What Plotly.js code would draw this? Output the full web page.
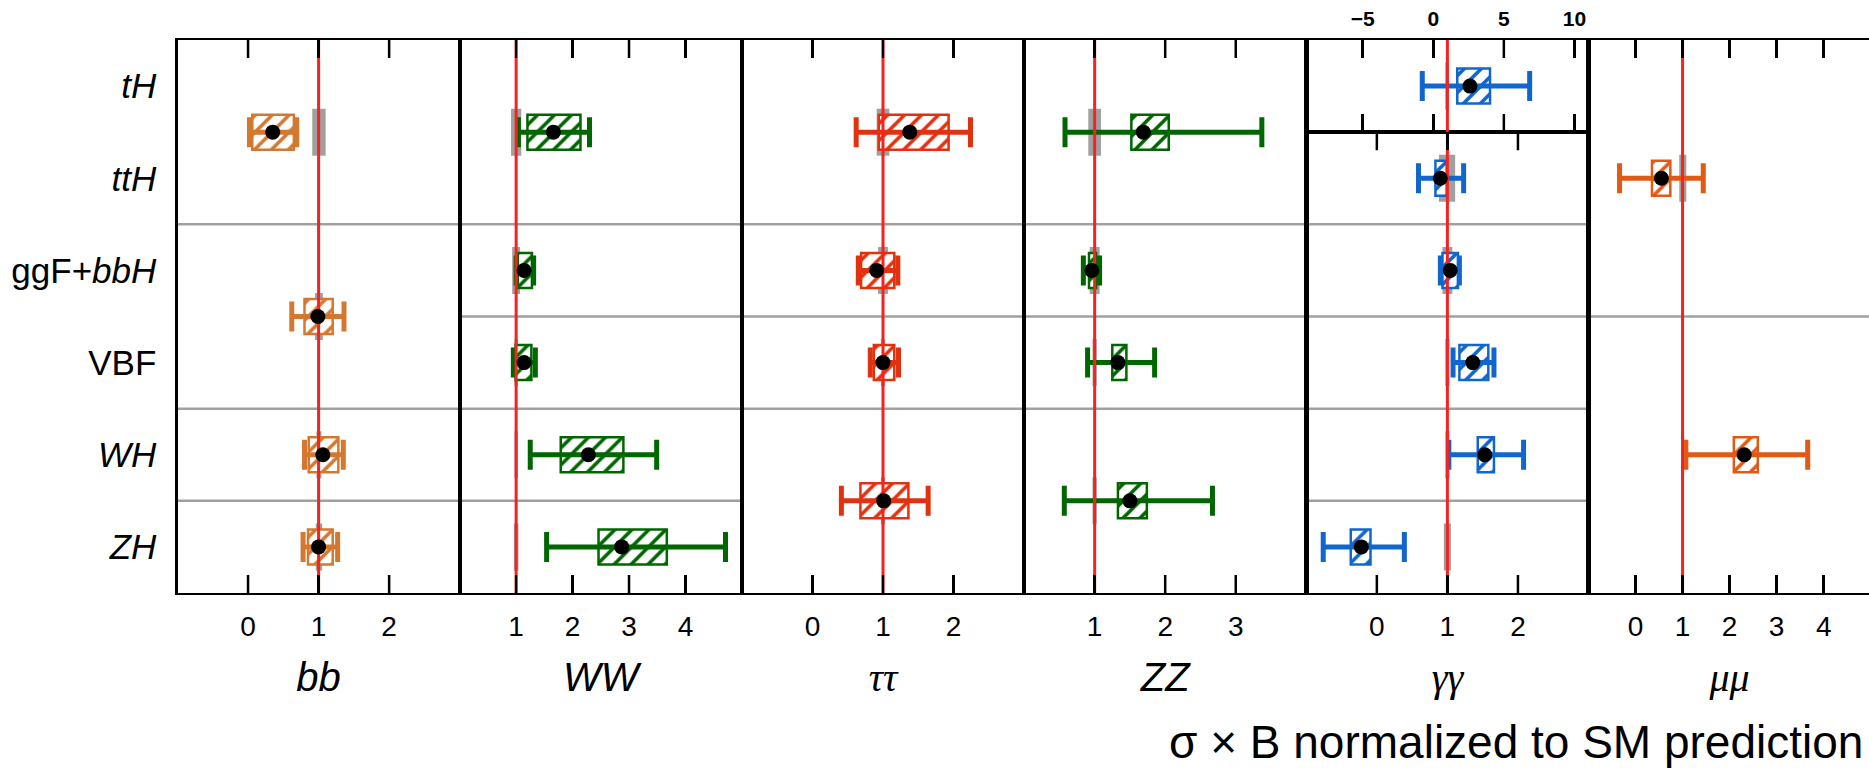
<!DOCTYPE html>
<html>
<head>
<meta charset="utf-8">
<script src="https://cdn.plot.ly/plotly-3.0.1.min.js"></script>
<style>html,body{margin:0;padding:0;overflow:hidden;background:#fff}</style>
</head>
<body>
<div id="chart" style="width:1872px;height:768px"></div>
<script>
// ---------------- data ----------------
const rows = ['tH', 'ttH', 'ggF', 'VBF', 'WH', 'ZH'];
const rowLabels = ['<i>tH</i>', '<i>ttH</i>', 'ggF+<i>bbH</i>', 'VBF', '<i>WH</i>', '<i>ZH</i>'];

const bbCells  = [['tH','ttH'], ['ggF','VBF'], ['WH'], ['ZH']];
const bbMu     = [0.35, 0.99, 1.06, 1.00];
const bbBoxLo  = [0.06, 0.80, 0.86, 0.85];
const bbBoxHi  = [0.65, 1.20, 1.28, 1.20];
const bbTotLo  = [0.02, 0.62, 0.80, 0.78];
const bbTotHi  = [0.69, 1.36, 1.35, 1.27];
const bbThLo   = [0.91, 0.95, 0.97, 0.96];
const bbThHi   = [1.10, 1.06, 1.04, 1.05];
const bbTicks  = [0, 1, 2];

const wwCells  = [['tH','ttH'], ['ggF'], ['VBF'], ['WH'], ['ZH']];
const wwMu     = [1.66, 1.14, 1.14, 2.28, 2.87];
const wwBoxLo  = [1.20, 1.03, 0.99, 1.79, 2.46];
const wwBoxHi  = [2.14, 1.28, 1.27, 2.90, 3.67];
const wwTotLo  = [1.04, 1.00, 0.95, 1.25, 1.54];
const wwTotHi  = [2.30, 1.31, 1.34, 3.49, 4.71];
const wwThLo   = [0.91, 0.93, 0.97, 0.97, 0.96];
const wwThHi   = [1.09, 1.07, 1.03, 1.03, 1.04];
const wwTicks  = [1, 2, 3, 4];

const ttCells  = [['tH','ttH'], ['ggF'], ['VBF'], ['WH','ZH']];
const ttMu     = [1.38, 0.91, 1.00, 1.01];
const ttBoxLo  = [0.94, 0.69, 0.87, 0.68];
const ttBoxHi  = [1.93, 1.16, 1.16, 1.36];
const ttTotLo  = [0.62, 0.65, 0.82, 0.41];
const ttTotHi  = [2.24, 1.21, 1.22, 1.64];
const ttThLo   = [0.91, 0.93, 0.97, 0.97];
const ttThHi   = [1.09, 1.07, 1.03, 1.03];
const ttTicks  = [0, 1, 2];

const zzCells  = [['tH','ttH'], ['ggF'], ['VBF'], ['WH','ZH']];
const zzMu     = [1.69, 0.96, 1.33, 1.50];
const zzBoxLo  = [1.52, 0.92, 1.25, 1.33];
const zzBoxHi  = [2.05, 1.02, 1.45, 1.74];
const zzTotLo  = [0.58, 0.84, 0.90, 0.57];
const zzTotHi  = [3.37, 1.07, 1.85, 2.67];
const zzThLo   = [0.91, 0.93, 0.97, 0.97];
const zzThHi   = [1.09, 1.07, 1.03, 1.03];
const zzTicks  = [1, 2, 3];

const gtCells  = [['tH']];
const gtMu     = [2.60];
const gtBoxLo  = [1.70];
const gtBoxHi  = [4.02];
const gtTotLo  = [-0.78];
const gtTotHi  = [6.83];
const gtThLo   = [0.85];
const gtThHi   = [1.10];
const gtTicks  = [-5, 0, 5, 10];

const ggCells  = [['ttH'], ['ggF'], ['VBF'], ['WH'], ['ZH']];
const ggMu     = [0.90, 1.04, 1.36, 1.53, -0.22];
const ggBoxLo  = [0.83, 0.93, 1.17, 1.43, -0.37];
const ggBoxHi  = [0.99, 1.15, 1.58, 1.66, -0.09];
const ggTotLo  = [0.59, 0.90, 1.08, 1.02, -0.76];
const ggTotHi  = [1.23, 1.17, 1.66, 2.08, 0.39];
const ggThLo   = [0.88, 0.93, 0.97, 0.97, 0.95];
const ggThHi   = [1.11, 1.07, 1.03, 1.03, 1.05];
const ggTicks  = [0, 1, 2];

const mmCells  = [['tH','ttH','ggF'], ['VBF','WH','ZH']];
const mmMu     = [0.55, 2.31];
const mmBoxLo  = [0.35, 2.09];
const mmBoxHi  = [0.74, 2.60];
const mmTotLo  = [-0.34, 1.07];
const mmTotHi  = [1.44, 3.66];
const mmThLo   = [0.93, 0.97];
const mmThHi   = [1.08, 1.03];
const mmTicks  = [0, 1, 2, 3, 4];

const smValue = 1;

// ---------------- layout geometry ----------------
const W = 1872, H = 768;
const frameLeft = 177.5, panelW = 282.2, frameTop = 40, frameBottom = 593;
const rowH = (frameBottom - frameTop) / 6;
const tickLen = 18;
const px2x = p => p / W;
const px2y = p => 1 - p / H;

const RED = '#f52222', GRAY = '#a0a0a0';
const serif = 'Liberation Serif, Times New Roman, serif';
const sans = 'Liberation Sans, Arial, Helvetica, sans-serif';

const panels = [
  {k:0, xid:'x',  yid:'y',  hpx: 6 * rowH, title:'<i>bb</i>', tfam:sans,  color:'#d4782f', range:[-1,3], ticks:bbTicks,
   cells:bbCells, mu:bbMu, boxLo:bbBoxLo, boxHi:bbBoxHi, totLo:bbTotLo, totHi:bbTotHi, thLo:bbThLo, thHi:bbThHi, yr:[0,6]},
  {k:1, xid:'x2', yid:'y',  hpx: 6 * rowH, title:'<i>WW</i>', tfam:sans,  color:'#006600', range:[0,5], ticks:wwTicks,
   cells:wwCells, mu:wwMu, boxLo:wwBoxLo, boxHi:wwBoxHi, totLo:wwTotLo, totHi:wwTotHi, thLo:wwThLo, thHi:wwThHi, yr:[0,6]},
  {k:2, xid:'x3', yid:'y',  hpx: 6 * rowH, title:'<i>ττ</i>', tfam:serif, color:'#e0320f', range:[-1,3], ticks:ttTicks,
   cells:ttCells, mu:ttMu, boxLo:ttBoxLo, boxHi:ttBoxHi, totLo:ttTotLo, totHi:ttTotHi, thLo:ttThLo, thHi:ttThHi, yr:[0,6]},
  {k:3, xid:'x4', yid:'y',  hpx: 6 * rowH, title:'<i>ZZ</i>', tfam:sans,  color:'#006600', range:[0,4], ticks:zzTicks,
   cells:zzCells, mu:zzMu, boxLo:zzBoxLo, boxHi:zzBoxHi, totLo:zzTotLo, totHi:zzTotHi, thLo:zzThLo, thHi:zzThHi, yr:[0,6]},
  {k:4, xid:'x5', yid:'y3', hpx: 5 * rowH, title:'<i>γγ</i>', tfam:serif, color:'#1066cc', range:[-1,3], ticks:ggTicks,
   cells:ggCells, mu:ggMu, boxLo:ggBoxLo, boxHi:ggBoxHi, totLo:ggTotLo, totHi:ggTotHi, thLo:ggThLo, thHi:ggThHi, yr:[0,5]},
  {k:5, xid:'x6', yid:'y',  hpx: 6 * rowH, title:'<i>μμ</i>', tfam:serif, color:'#e05a16', range:[-1,5], ticks:mmTicks,
   cells:mmCells, mu:mmMu, boxLo:mmBoxLo, boxHi:mmBoxHi, totLo:mmTotLo, totHi:mmTotHi, thLo:mmThLo, thHi:mmThHi, yr:[0,6]},
  {k:4, xid:'x7', yid:'y2', hpx: rowH, title:'', tfam:sans, color:'#1066cc', range:[-9,11], ticks:gtTicks, top:true,
   cells:gtCells, mu:gtMu, boxLo:gtBoxLo, boxHi:gtBoxHi, totLo:gtTotLo, totHi:gtTotHi, thLo:gtThLo, thHi:gtThHi, yr:[5,6]}
];

const cellY = cell => cell.reduce((s, r) => s + (5.5 - rows.indexOf(r)), 0) / cell.length;
const diff = (a, b) => a.map((v, i) => v - b[i]);

const traces = [];
const shapes = [];
const layout = {
  width: W, height: H,
  margin: {l:0, r:0, t:0, b:0},
  barmode: 'overlay', showlegend: false,
  font: {family: sans},
  hovermode: false
};

const axBase = {
  showline: true, linecolor: 'black', linewidth: 2.2,
  mirror: 'ticks', ticks: 'inside', ticklen: tickLen, tickwidth: 2.5, tickcolor: 'black',
  showgrid: false, zeroline: false, fixedrange: true,
  tickfont: {size: 28, color: 'black', family: sans}
};

panels.forEach(p => {
  const ys = p.cells.map(cellY);
  const common = {xaxis: p.xid, yaxis: p.yid, hoverinfo: 'skip', showlegend: false};
  // SM theory uncertainty bands
  traces.push(Object.assign({type: 'bar', orientation: 'h', y: ys, x: diff(p.thHi, p.thLo), base: p.thLo,
    width: 0.51, marker: {color: GRAY, line: {width: 0}}}, common));
  // hatched uncertainty boxes
  traces.push(Object.assign({type: 'bar', orientation: 'h', y: ys, x: diff(p.boxHi, p.boxLo), base: p.boxLo,
    width: 0.38, marker: {color: 'white', line: {color: p.color, width: 2.5},
      pattern: {shape: '/', fgcolor: p.color, bgcolor: 'white', size: 12, solidity: 0.3, fillmode: 'replace'}}}, common));
  // total uncertainty error bars
  traces.push(Object.assign({type: 'scatter', mode: 'markers', x: p.mu, y: ys,
    marker: {size: 1, color: 'rgba(0,0,0,0)'},
    error_x: {type: 'data', symmetric: false, array: diff(p.totHi, p.mu), arrayminus: diff(p.mu, p.totLo),
      color: p.color, thickness: 5, width: 15}}, common));
  // SM reference line
  traces.push(Object.assign({type: 'scatter', mode: 'lines', x: [smValue, smValue], y: p.yr,
    line: {color: RED, width: 3}}, common));
  // central values
  traces.push(Object.assign({type: 'scatter', mode: 'markers', x: p.mu, y: ys,
    marker: {size: 15, color: 'black'}}, common));

  // gray separators between cells
  for (let i = 0; i < p.cells.length - 1; i++) {
    const last = p.cells[i][p.cells[i].length - 1];
    const b = 5 - rows.indexOf(last);
    shapes.push({type: 'line', xref: p.xid + ' domain', x0: 0, x1: 1, yref: p.yid, y0: b, y1: b,
      line: {color: GRAY, width: 2.5}, layer: 'below'});
  }

  // inside tick marks at both frame edges (placed on the axis scale)
  const f = tickLen / p.hpx;
  p.ticks.forEach(v => {
    shapes.push({type: 'line', xref: p.xid, x0: v, x1: v, yref: p.yid + ' domain', y0: 0, y1: f,
      line: {color: 'black', width: 2.5}, layer: 'below'});
    shapes.push({type: 'line', xref: p.xid, x0: v, x1: v, yref: p.yid + ' domain', y0: 1, y1: 1 - f,
      line: {color: 'black', width: 2.5}, layer: 'below'});
  });

  const axName = 'xaxis' + (p.xid === 'x' ? '' : p.xid.slice(1));
  const ax = Object.assign({}, axBase, {
    domain: [px2x(frameLeft + panelW * p.k), px2x(frameLeft + panelW * (p.k + 1))],
    range: p.range, tickvals: p.ticks, anchor: p.yid
  });
  if (p.top) {
    ax.side = 'top';
    ax.tickfont = {size: 21, color: 'black', family: sans, weight: 700};
    ax.ticklabelstandoff = 3;
  } else {
    ax.ticklabelstandoff = 7;
    ax.title = {text: p.title, font: {size: 40, family: p.tfam, color: 'black'}, standoff: 22};
  }
  layout[axName] = ax;
});

const yBase = {showline: true, linecolor: 'black', linewidth: 2.2, ticks: '', showgrid: false,
  zeroline: false, fixedrange: true};
layout.yaxis = Object.assign({}, yBase, {
  domain: [px2y(frameBottom), px2y(frameTop)], range: [0, 6], anchor: 'x', mirror: 'all',
  tickvals: rows.map((r, i) => 5.5 - i), ticktext: rowLabels,
  tickfont: {size: 35, color: 'black', family: sans}, ticklabelstandoff: 12
});
layout.yaxis2 = Object.assign({}, yBase, {
  domain: [px2y(frameTop + rowH), px2y(frameTop)], range: [5, 6], anchor: 'x7', mirror: true,
  showticklabels: false
});
layout.yaxis3 = Object.assign({}, yBase, {
  domain: [px2y(frameBottom), px2y(frameTop + rowH)], range: [0, 5], anchor: 'x5', mirror: true,
  showticklabels: false
});

layout.shapes = shapes;
layout.annotations = [{
  text: 'σ × B normalized to SM prediction', xref: 'paper', yref: 'paper',
  x: px2x(1167), y: px2y(742), xanchor: 'left', yanchor: 'middle', showarrow: false,
  font: {size: 46, family: sans, color: 'black'}
}];

Plotly.newPlot('chart', traces, layout, {displayModeBar: false, staticPlot: true});
</script>
</body>
</html>
